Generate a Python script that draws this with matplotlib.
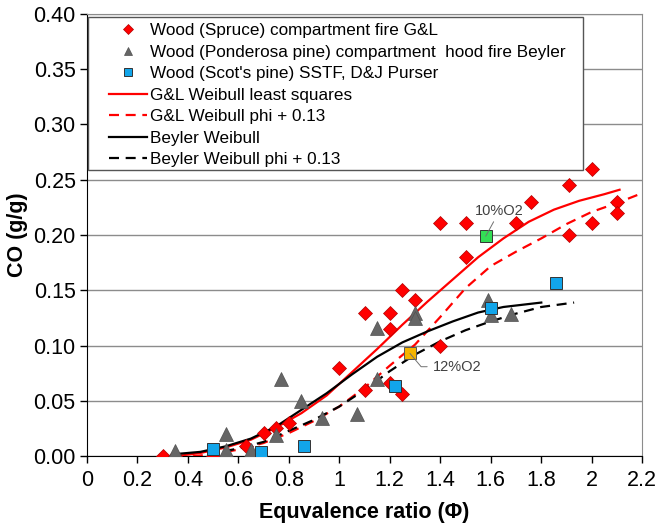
import matplotlib
matplotlib.use("Agg")
import matplotlib.pyplot as plt
from matplotlib.patches import Rectangle
from matplotlib.ticker import FuncFormatter, MultipleLocator

plt.rcParams["font.family"] = ["Liberation Sans", "DejaVu Sans"]

# Measured CO yields
spruce_phi = [0.30, 0.35, 0.50, 0.63, 0.70, 0.75, 0.80, 1.00, 1.10, 1.20, 1.25,
              1.10, 1.20, 1.20, 1.25, 1.30, 1.40, 1.40, 1.50, 1.50, 1.70, 1.76,
              1.91, 1.91, 2.00, 2.00, 2.10, 2.10]
spruce_co = [0.000, 0.000, 0.000, 0.009, 0.021, 0.026, 0.030, 0.080, 0.060, 0.066, 0.056,
             0.130, 0.130, 0.115, 0.150, 0.141, 0.100, 0.211, 0.211, 0.180, 0.211, 0.230,
             0.245, 0.200, 0.260, 0.211, 0.230, 0.220]

ponderosa_phi = [0.35, 0.55, 0.55, 0.65, 0.75, 0.77, 0.85, 0.93, 1.07, 1.15, 1.15,
                 1.30, 1.30, 1.59, 1.60, 1.68]
ponderosa_co = [0.005, 0.020, 0.006, 0.006, 0.019, 0.070, 0.050, 0.035, 0.038, 0.070, 0.116,
                0.130, 0.125, 0.141, 0.128, 0.129]

scots_phi = [0.50, 0.69, 0.86, 1.22, 1.60, 1.86]
scots_co = [0.007, 0.004, 0.009, 0.064, 0.134, 0.157]

o2_10_phi, o2_10_co = [1.58], [0.199]
o2_12_phi, o2_12_co = [1.28], [0.093]

# Weibull fit curves
gl_phi = [0.35, 0.45, 0.55, 0.65, 0.75, 0.85, 0.95, 1.05, 1.15, 1.25, 1.35, 1.45,
          1.55, 1.65, 1.75, 1.85, 1.95, 2.05, 2.11]
gl_co = [0.000, 0.003, 0.008, 0.015, 0.026, 0.039, 0.055, 0.076, 0.097, 0.119, 0.140, 0.160,
         0.180, 0.197, 0.212, 0.223, 0.231, 0.237, 0.241]

gl_shift_phi = [0.42, 0.50, 0.60, 0.70, 0.80, 0.90, 1.00, 1.10, 1.20, 1.30, 1.40, 1.50,
                1.60, 1.70, 1.80, 1.90, 2.00, 2.10, 2.20]
gl_shift_co = [0.000, 0.002, 0.006, 0.012, 0.021, 0.032, 0.045, 0.062, 0.082, 0.101, 0.126, 0.152,
               0.172, 0.185, 0.197, 0.210, 0.221, 0.229, 0.238]

by_phi = [0.35, 0.45, 0.55, 0.65, 0.75, 0.85, 0.95, 1.05, 1.15, 1.25, 1.35, 1.45,
          1.55, 1.65, 1.80]
by_co = [0.002, 0.004, 0.009, 0.016, 0.027, 0.042, 0.057, 0.074, 0.090, 0.103, 0.113, 0.122,
         0.130, 0.135, 0.139]

by_shift_phi = [0.48, 0.60, 0.70, 0.80, 0.90, 1.00, 1.10, 1.20, 1.30, 1.40, 1.50, 1.60,
                1.70, 1.80, 1.93]
by_shift_co = [0.002, 0.007, 0.013, 0.023, 0.033, 0.045, 0.060, 0.077, 0.092, 0.104, 0.114, 0.122,
               0.129, 0.135, 0.139]

x_ticks = [0, 0.2, 0.4, 0.6, 0.8, 1, 1.2, 1.4, 1.6, 1.8, 2, 2.2]

fig = plt.figure(figsize=(6.61, 5.28), dpi=100)
ax = fig.add_axes([0.1313, 0.1358, 0.8404, 0.8379])

ax.set_xlim(0, 2.2)
ax.set_ylim(0, 0.40)
ax.set_xticks(x_ticks)
ax.xaxis.set_major_formatter(FuncFormatter(lambda v, p: f"{v:g}"))
ax.yaxis.set_major_locator(MultipleLocator(0.05))
ax.yaxis.set_major_formatter(FuncFormatter(lambda v, p: f"{v:.2f}"))
ax.yaxis.grid(True, color="#8c8c8c", lw=1.0)
ax.set_axisbelow(True)
ax.tick_params(axis="both", direction="out", length=5, width=1, labelsize=15.5, colors="black")
ax.tick_params(axis="x", pad=5)
ax.tick_params(axis="y", pad=3)
for side in ("top", "right"):
    ax.spines[side].set_color("#8c8c8c")
for side in ("left", "bottom"):
    ax.spines[side].set_color("black")

dash = (0, (4.5, 3))
l1, = ax.plot(gl_phi, gl_co, color="#ff0000", lw=1.6, zorder=3)
l2, = ax.plot(gl_shift_phi, gl_shift_co, color="#ff0000", lw=1.6, ls=dash, zorder=3)
l3, = ax.plot(by_phi, by_co, color="black", lw=1.6, zorder=3)
l4, = ax.plot(by_shift_phi, by_shift_co, color="black", lw=1.6, ls=dash, zorder=3)

s1, = ax.plot(spruce_phi, spruce_co, ls="none", marker="D", ms=7.5, mfc="#ff0000",
              mec="#b00000", mew=0.5, zorder=5)
s2, = ax.plot(ponderosa_phi, ponderosa_co, ls="none", marker="^", ms=9.5, mfc="#666666",
              mec="#505050", mew=0.5, zorder=5)
s3, = ax.plot(scots_phi, scots_co, ls="none", marker="s", ms=8, mfc="#12a5ea",
              mec="#333333", mew=0.7, zorder=6)
ax.plot(o2_10_phi, o2_10_co, ls="none", marker="s", ms=8, mfc="#33dd55",
        mec="#333333", mew=0.7, zorder=6)
ax.plot(o2_12_phi, o2_12_co, ls="none", marker="s", ms=8, mfc="#f5b400",
        mec="#555555", mew=0.7, zorder=6)

ax.annotate("10%O2", xy=(o2_10_phi[0], o2_10_co[0]), xytext=(1.635, 0.222),
            ha="center", va="center", fontsize=10.5, color="#404040", zorder=7,
            arrowprops=dict(arrowstyle="-", color="#707070", lw=0.7, shrinkA=1, shrinkB=0))
ax.annotate("12%O2", xy=(o2_12_phi[0], o2_12_co[0]), xytext=(1.37, 0.081),
            ha="left", va="center", fontsize=10.5, color="#404040", zorder=7,
            arrowprops=dict(arrowstyle="-", color="#707070", lw=0.7, shrinkA=2, shrinkB=0,
                            connectionstyle="angle,angleA=0,angleB=-50,rad=0"))

ax.set_xlabel("Equvalence ratio (Φ)", fontsize=15.5, fontweight="bold", labelpad=8)
ax.set_ylabel("CO (g/g)", fontsize=15.5, fontweight="bold", labelpad=4)

# Legend with a white framed box
ax.add_patch(Rectangle((0.003, 0.647), 0.890, 0.346, transform=ax.transAxes,
                       facecolor="white", edgecolor="#555555", lw=1.0, zorder=8))
labels = ["Wood (Spruce) compartment fire G&L",
          "Wood (Ponderosa pine) compartment  hood fire Beyler",
          "Wood (Scot's pine) SSTF, D&J Purser",
          "G&L Weibull least squares",
          "G&L Weibull phi + 0.13",
          "Beyler Weibull",
          "Beyler Weibull phi + 0.13"]
leg = ax.legend([s1, s2, s3, l1, l2, l3, l4], labels, loc="upper left",
                bbox_to_anchor=(0.040, 0.979), frameon=False, fontsize=12.3,
                borderpad=0, borderaxespad=0, handlelength=2.25, handletextpad=0.15,
                labelspacing=0.38, markerscale=0.65)
leg.set_zorder(9)

fig.savefig("out.png", dpi=100)
